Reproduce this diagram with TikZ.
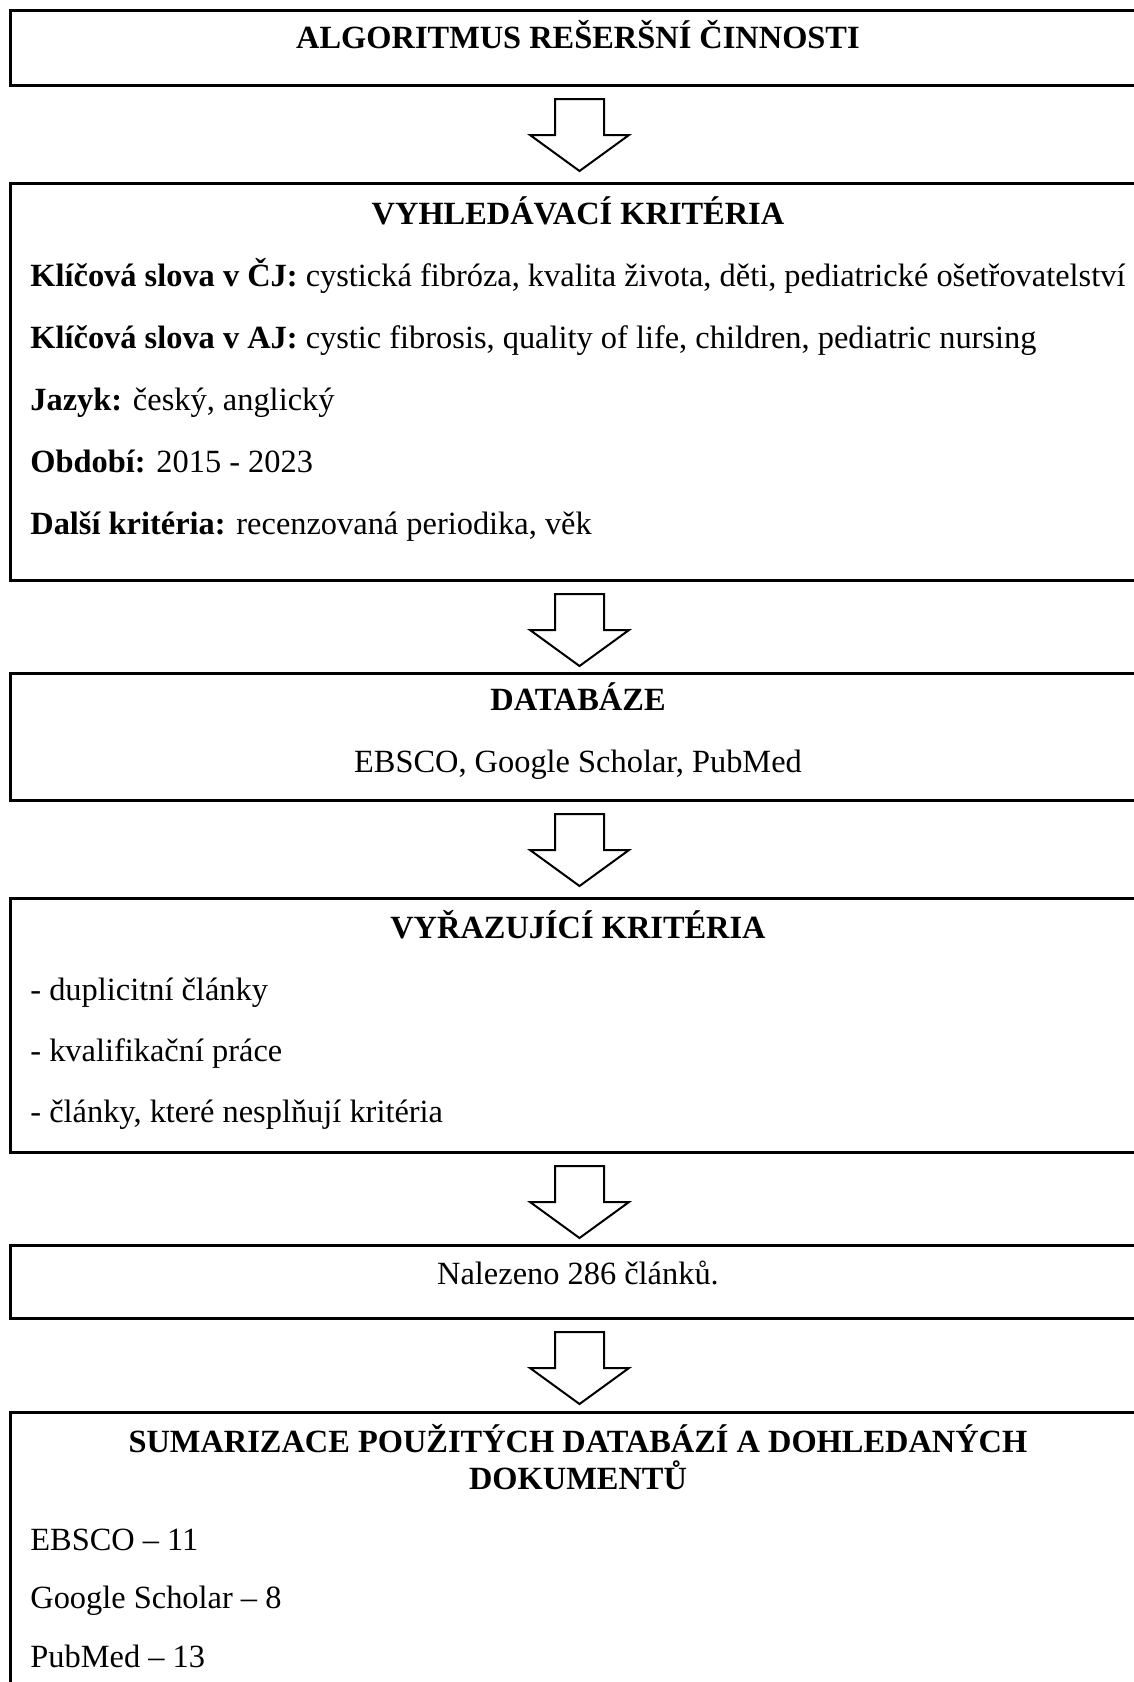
\documentclass[tikz,border=0pt]{standalone}
\usepackage{fontspec}
\setmainfont{Liberation Serif}
\tikzset{
  box/.style={draw,line width=1.5pt,minimum width=569pt,anchor=north west,inner sep=0pt},
  head/.style={anchor=base,inner sep=0pt,font=\bfseries},
  txt/.style={anchor=base west,inner sep=0pt},
  mid/.style={anchor=base,inner sep=0pt},
  downarr/.pic={\draw[line width=1pt,line join=miter](-24.5,0)--(24.5,0)--(24.5,36)--(49.5,36)--(0,72)--(-49.5,36)--(-24.5,36)--cycle;}
}
\begin{document}
\begin{tikzpicture}[x=0.5pt,y=-0.5pt]\fontsize{16.2pt}{19pt}\selectfont
\clip(0,0)rectangle(1134,1682);
% boxes
\node[box,minimum height=37.5pt](b1)at(9,9){};
\node[box,minimum height=198.5pt](b2)at(9,182){};
\node[box,minimum height=63.5pt](b3)at(9,672){};
\node[box,minimum height=127pt](b4)at(9,897){};
\node[box,minimum height=36.5pt](b5)at(9,1244){};
\node[box,minimum height=144.5pt](b6)at(9,1411){};
% arrows
\path(b1.south)++(0,12)pic{downarr};
\path(b2.south)++(0,12)pic{downarr};
\path(b3.south)++(0,12)pic{downarr};
\path(b4.south)++(0,12)pic{downarr};
\path(b5.south)++(0,12)pic{downarr};
% texts
\node[head](t1)at(578,48){ALGORITMUS REŠERŠNÍ ČINNOSTI};
\node[head](t2)at(578,224){VYHLEDÁVACÍ KRITÉRIA};
\node[txt](k1)at(30,286){\textbf{Klíčová slova v ČJ:} cystická fibróza, kvalita života, děti, pediatrické ošetřovatelství};
\node[txt](k2)at(30,348){\textbf{Klíčová slova v AJ:} cystic fibrosis, quality of life, children, pediatric nursing};
\node[txt](k3)at(30,410){\textbf{Jazyk:} český, anglický};
\node[txt](k4)at(30,472){\textbf{Období:} 2015 - 2023};
\node[txt](k5)at(30,534){\textbf{Další kritéria:} recenzovaná periodika, věk};
\node[head](t3)at(578,710){DATABÁZE};
\node[mid](d1)at(578,772){EBSCO, Google Scholar, PubMed};
\node[head](t4)at(578,938){VYŘAZUJÍCÍ KRITÉRIA};
\node[txt](v1)at(30,1000){- duplicitní články};
\node[txt](v2)at(30,1061){- kvalifikační práce};
\node[txt](v3)at(30,1122){- články, které nesplňují kritéria};
\node[mid](n1)at(578,1284){Nalezeno 286 článků.};
\node[head](t6)at(578,1452){SUMARIZACE POUŽITÝCH DATABÁZÍ A DOHLEDANÝCH};
\node[head](t6b)at(578,1489){DOKUMENTŮ};
\node[txt](s1)at(30,1550){EBSCO – 11};
\node[txt](s2)at(30,1608){Google Scholar – 8};
\node[txt](s3)at(30,1667){PubMed – 13};
\end{tikzpicture}
\end{document}
